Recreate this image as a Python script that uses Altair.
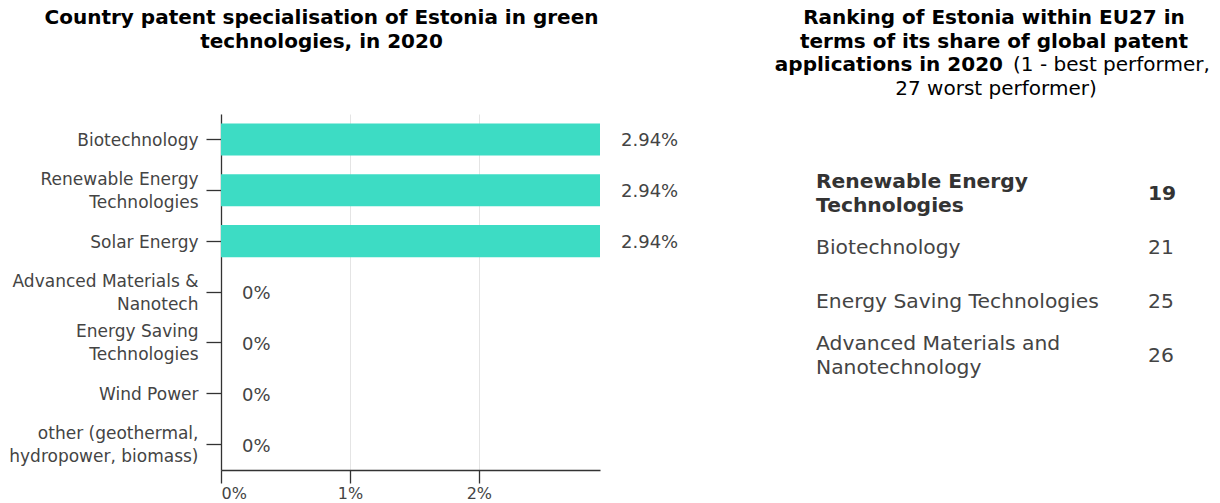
import altair as alt
import pandas as pd

# ---------------- data ----------------
categories = [
    "Biotechnology",
    "Renewable Energy Technologies",
    "Solar Energy",
    "Advanced Materials & Nanotech",
    "Energy Saving Technologies",
    "Wind Power",
    "other (geothermal, hydropower, biomass)",
]
category_lines = [
    ["Biotechnology"],
    ["Renewable Energy", "Technologies"],
    ["Solar Energy"],
    ["Advanced Materials &", "Nanotech"],
    ["Energy Saving", "Technologies"],
    ["Wind Power"],
    ["other (geothermal,", "hydropower, biomass)"],
]
specialisation = [2.94, 2.94, 2.94, 0, 0, 0, 0]
x_ticks = [0, 1, 2]

rank_fields = [
    "Renewable Energy Technologies",
    "Biotechnology",
    "Energy Saving Technologies",
    "Advanced Materials and Nanotechnology",
]
rank_lines = [
    ["Renewable Energy", "Technologies"],
    ["Biotechnology"],
    ["Energy Saving Technologies"],
    ["Advanced Materials and", "Nanotechnology"],
]
ranks = [19, 21, 25, 26]
highlight = [True, False, False, False]

left_title = ["Country patent specialisation of Estonia in green", "technologies, in 2020"]
right_title_bold = ["Ranking of Estonia within EU27 in", "terms of its share of global patent"]
right_title_line3_bold = "applications in 2020"
right_title_line3_normal = "(1 - best performer,"
right_title_line4 = "27 worst performer)"

FONT = "DejaVu Sans"
BAR = "#3DDCC4"
TXT = "#444444"

# ---------------- left chart ----------------
bar_df = pd.DataFrame({"category": categories, "value": specialisation})

label_expr = ""
for cat, lines in zip(categories, category_lines):
    arr = "[" + ",".join("'" + l + "'" for l in lines) + "]"
    label_expr += f"datum.value == '{cat}' ? {arr} : "
label_expr += "datum.value"

two_line = [c for c, l in zip(categories, category_lines) if len(l) > 1]
two_line_test = " || ".join(f"datum.value == '{c}'" for c in two_line)

y_enc = alt.Y(
    "category:N",
    sort=categories,
    scale=alt.Scale(paddingInner=0.37, paddingOuter=0.185),
    axis=alt.Axis(
        title=None,
        labelExpr=label_expr,
        labelFontSize=17,
        labelColor=TXT,
        labelLineHeight=23,
        labelLimit=400,
        labelOffset={"condition": {"test": two_line_test, "value": -10.5}, "value": 1.5},
        tickSize=15,
        labelPadding=8,
        domainColor="#333333",
        tickColor="#333333",
        domainWidth=1.3,
        tickWidth=1.3,
        grid=False,
    ),
)
x_enc = alt.X(
    "value:Q",
    scale=alt.Scale(domain=[0, 2.94], nice=False, zero=True),
    axis=alt.Axis(
        title=None,
        values=x_ticks,
        labelExpr="datum.value + '%'",
        labelFontSize=16,
        labelColor=TXT,
        labelFlush=True,
        tickSize=13,
        labelPadding=2,
        domainColor="#333333",
        tickColor="#333333",
        domainWidth=1.3,
        tickWidth=1.3,
        grid=True,
        gridColor="#e4e4e4",
        gridWidth=1,
    ),
)

bars = alt.Chart(bar_df).mark_bar(color=BAR).encode(x=x_enc, y=y_enc)

bar_text = (
    alt.Chart(bar_df)
    .transform_calculate(label="datum.value + '%'")
    .mark_text(align="left", baseline="middle", dx=21, dy=2, fontSize=18, color=TXT, font=FONT)
    .encode(x="value:Q", y=alt.Y("category:N", sort=categories), text="label:N")
)

left_title_layer = (
    alt.Chart(pd.DataFrame({"t": [0]}))
    .mark_text(text=left_title, fontSize=20, fontWeight="bold", color="#000000",
               align="center", baseline="alphabetic", lineHeight=24, font=FONT)
    .encode(x=alt.value(100.5), y=alt.value(-90))
)

left = alt.layer(bars, bar_text, left_title_layer).properties(width=379, height=356)

# ---------------- right panel ----------------
rank_df = pd.DataFrame({
    "name": rank_fields,
    "display": ["\n".join(l) for l in rank_lines],
    "nlines": [len(l) for l in rank_lines],
    "rank": [str(r) for r in ranks],
    "highlight": highlight,
})

row_y = alt.Y("name:N", sort=rank_fields,
              scale=alt.Scale(type="point", range=[80, 242], padding=0), axis=None)

layers = []
for bold in (True, False):
    for n in (1, 2):
        sub = rank_df[(rank_df["highlight"] == bold) & (rank_df["nlines"] == n)]
        if sub.empty:
            continue
        filt = ("datum.highlight" if bold else "!datum.highlight") + f" && datum.nlines == {n}"
        base = alt.Chart(rank_df).transform_filter(filt)
        layers.append(
            base.mark_text(
                align="left", baseline="middle", fontSize=20.3, lineHeight=24, lineBreak="\n",
                dy=-(n - 1) * 12,
                fontWeight="bold" if bold else "normal",
                color="#333333" if bold else TXT, font=FONT,
            ).encode(x=alt.value(56), y=row_y, text="display:N")
        )
    base = alt.Chart(rank_df).transform_filter("datum.highlight" if bold else "!datum.highlight")
    layers.append(
        base.mark_text(
            align="left", baseline="middle", fontSize=20.3,
            fontWeight="bold" if bold else "normal",
            color="#333333" if bold else TXT, font=FONT,
        ).encode(x=alt.value(388), y=row_y, text="rank:N")
    )

one = pd.DataFrame({"t": [0]})
rt1 = alt.Chart(one).mark_text(text=right_title_bold, fontSize=20, fontWeight="bold", color="#000000",
                               align="center", baseline="alphabetic", lineHeight=24, font=FONT
                               ).encode(x=alt.value(234), y=alt.value(-90))
rt2 = alt.Chart(one).mark_text(text=right_title_line3_bold, fontSize=20, fontWeight="bold", color="#000000",
                               align="right", baseline="alphabetic", font=FONT
                               ).encode(x=alt.value(243), y=alt.value(-43))
rt3 = alt.Chart(one).mark_text(text=right_title_line3_normal, fontSize=20, color="#000000",
                               align="left", baseline="alphabetic", font=FONT
                               ).encode(x=alt.value(253), y=alt.value(-43))
rt4 = alt.Chart(one).mark_text(text=right_title_line4, fontSize=20, color="#000000",
                               align="center", baseline="alphabetic", font=FONT
                               ).encode(x=alt.value(236), y=alt.value(-19))

right = alt.layer(*layers, rt1, rt2, rt3, rt4).properties(width=452, height=356)

chart = (
    alt.hconcat(left, right, spacing=160, bounds="flush")
    .properties(padding=0)
    .configure(font=FONT)
    .configure_view(stroke=None)
)

chart.save("out.html", embed_options={"renderer": "svg", "actions": False})
